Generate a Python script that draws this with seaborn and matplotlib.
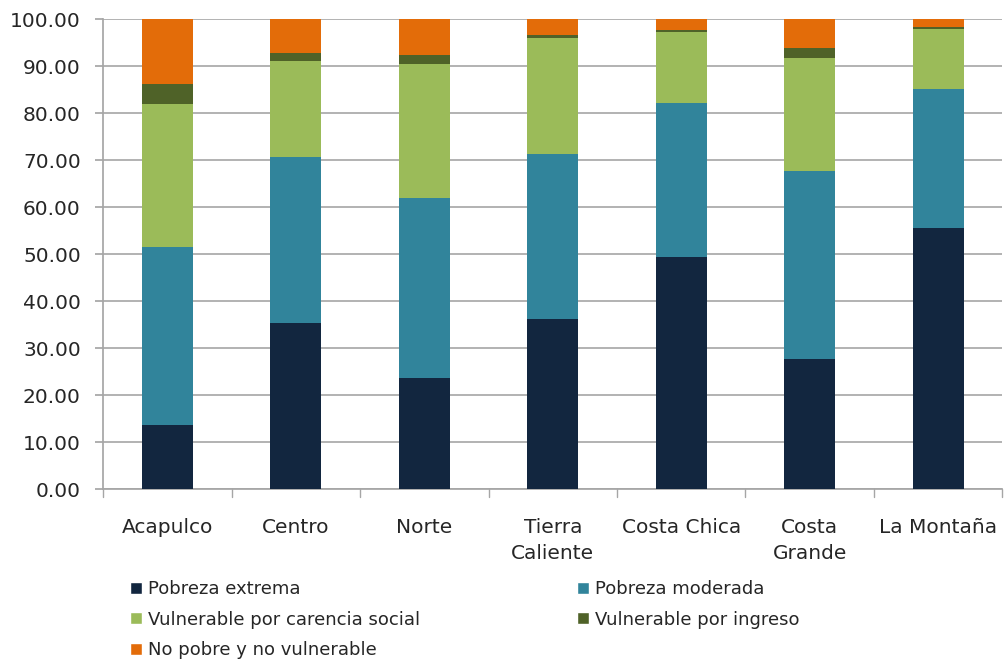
import numpy as np
import pandas as pd
import matplotlib
matplotlib.use("Agg")
import matplotlib.pyplot as plt
import seaborn as sns
from matplotlib.patches import Patch

regions = ["Acapulco", "Centro", "Norte", "Tierra\nCaliente", "Costa Chica", "Costa\nGrande", "La Montaña"]
pobreza_extrema = [13.6, 35.3, 23.6, 36.2, 49.5, 27.7, 55.6]
pobreza_moderada = [38.0, 35.3, 38.3, 35.2, 32.7, 40.0, 29.5]
vuln_carencia = [30.3, 20.6, 28.5, 24.5, 15.0, 24.0, 12.9]
vuln_ingreso = [4.3, 1.6, 1.9, 0.8, 0.5, 2.1, 0.3]
no_pobre = [13.8, 7.2, 7.7, 3.3, 2.3, 6.2, 1.7]

series_names = ["Pobreza extrema", "Pobreza moderada", "Vulnerable por carencia social",
                "Vulnerable por ingreso", "No pobre y no vulnerable"]
series_vals = [pobreza_extrema, pobreza_moderada, vuln_carencia, vuln_ingreso, no_pobre]
colors = ["#12263F", "#31849B", "#9BBB59", "#4F6228", "#E36C09"]

sns.set_theme(style="white")
plt.rcParams['font.family'] = ['DejaVu Sans']

fig = plt.figure(figsize=(10.05, 6.63), dpi=100)
ax = fig.add_axes([0.1025, 0.262, 0.895, 0.709])

df = pd.DataFrame({"region": regions})
cum = np.zeros(len(regions))
cums = []
for v in series_vals:
    cum = cum + np.array(v)
    cums.append(cum.copy())

# draw from top layer down so that lower layers overlay
for i in range(len(series_vals) - 1, -1, -1):
    d = df.copy()
    d["val"] = cums[i]
    sns.barplot(data=d, x="region", y="val", color=colors[i], width=0.4,
                saturation=1, ax=ax, zorder=3, edgecolor="none")

ax.set_ylim(0, 100)
ax.set_xlim(-0.5, len(regions) - 0.5)
ax.set_yticks(np.arange(0, 101, 10))
ax.set_yticklabels([f"{t:.2f}" for t in np.arange(0, 101, 10)], fontsize=14.5, color="#262626")
ax.set_xticks(range(len(regions)))
ax.set_xticklabels(regions, fontsize=14.5, color="#262626")
for lbl in ax.get_xticklabels():
    lbl.set_linespacing(1.45)
ax.set_xlabel("")
ax.set_ylabel("")
ax.yaxis.grid(True, color="#A6A6A6", linewidth=1.2, zorder=0)
ax.set_axisbelow(True)
for s in ["top", "right"]:
    ax.spines[s].set_visible(False)
ax.spines["left"].set_color("#A6A6A6")
ax.spines["bottom"].set_color("#A6A6A6")
ax.tick_params(axis="y", left=True, length=6, color="#A6A6A6", pad=10)
ax.tick_params(axis="x", bottom=False, pad=15)
# category separator ticks on x axis
for b in np.arange(-0.5, len(regions), 1.0):
    ax.plot([b, b], [0, -1.6], color="#A6A6A6", lw=1, clip_on=False, zorder=4)

handles = [Patch(facecolor=colors[i], label=series_names[i]) for i in range(5)]
order = [0, 2, 4, 1, 3]
fig.legend([handles[i] for i in order], [series_names[i] for i in order],
           ncol=2, loc="upper left", bbox_to_anchor=(0.122, 0.136), frameon=False,
           fontsize=13, handlelength=0.65, handleheight=0.65, handletextpad=0.35,
           columnspacing=8.7, labelspacing=0.7, borderaxespad=0,
           labelcolor="#262626")

fig.savefig("out.png", dpi=100)
